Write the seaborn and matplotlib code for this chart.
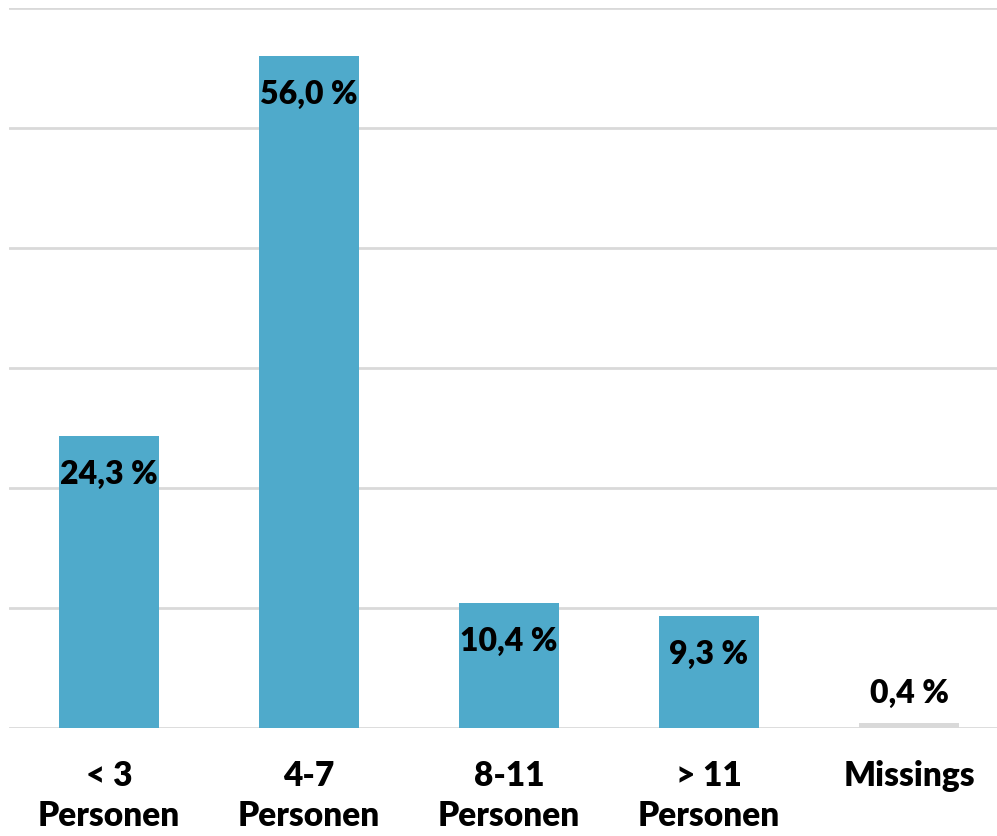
import matplotlib
matplotlib.use("Agg")
import matplotlib.pyplot as plt
import seaborn as sns
import pandas as pd

categories = ["< 3\nPersonen", "4-7\nPersonen", "8-11\nPersonen", "> 11\nPersonen", "Missings"]
values = [24.3, 56.0, 10.4, 9.3, 0.4]
labels = ["24,3 %", "56,0 %", "10,4 %", "9,3 %", "0,4 %"]
colors = ["#4FAACB", "#4FAACB", "#4FAACB", "#4FAACB", "#D9D9D9"]

sns.set_theme(style="white")
plt.rcParams["font.family"] = ["Lato", "DejaVu Sans"]

df = pd.DataFrame({"cat": categories, "val": values})

fig = plt.figure(figsize=(9.97, 8.36), dpi=100)
ax = fig.add_axes([9 / 997, 1 - 728 / 836, 1 - 9 / 997, 720 / 836])

sns.barplot(data=df, x="cat", y="val", hue="cat", palette=colors, legend=False,
            width=0.5, ax=ax, saturation=1, linewidth=0)

ax.set_ylim(0, 60)
ax.set_xlim(-0.5, 4.44)
ax.set_yticks(range(0, 61, 10))
ax.yaxis.grid(True, color="#D9D9D9", linewidth=2)
ax.set_axisbelow(True)
for s in ax.spines.values():
    s.set_visible(False)
ax.tick_params(axis="y", left=False, labelleft=False)
ax.tick_params(axis="x", bottom=False, pad=17, labelcolor="black")
ax.set_xlabel("")
ax.set_ylabel("")
for t in ax.get_xticklabels():
    t.set_fontsize(24)
    t.set_fontweight("heavy")
    t.set_linespacing(1.3)

for i, (v, lab) in enumerate(zip(values, labels)):
    if v < 3:
        off = 30 * 0.72
    else:
        off = -38 * 0.72
    ax.annotate(lab, (i, v), xytext=(0, off), textcoords="offset points",
                ha="center", va="center", fontsize=23, fontweight="heavy", color="black")

fig.savefig("out.png", dpi=100)
